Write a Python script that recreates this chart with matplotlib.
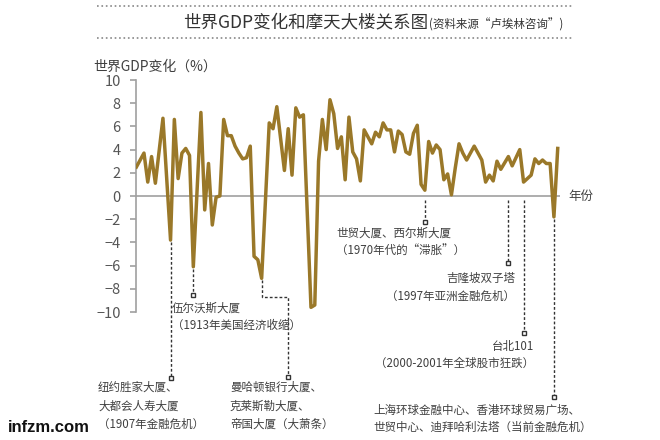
import matplotlib.pyplot as plt

plt.rcParams['font.family'] = ['Noto Sans CJK SC', 'DejaVu Sans']

# world GDP change (%)
years = [1899, 1901, 1902, 1903, 1904, 1906, 1908, 1909, 1910, 1911, 1912, 1913, 1914,
         1916, 1917, 1918, 1919, 1920, 1921, 1922, 1923, 1924, 1925, 1926, 1927, 1928,
         1929, 1930, 1931, 1932, 1934, 1935, 1936, 1938, 1939, 1940, 1941, 1942, 1943,
         1945, 1946, 1947, 1948, 1949, 1950, 1951, 1952, 1953, 1954, 1955, 1956, 1957,
         1958, 1959, 1961, 1962, 1963, 1964, 1965, 1966, 1967, 1968, 1969, 1970, 1971,
         1972, 1973, 1974, 1975, 1976, 1977, 1978, 1979, 1980, 1981, 1982, 1983, 1984,
         1985, 1986, 1988, 1990, 1991, 1992, 1993, 1994, 1995, 1997, 1998, 2000, 2001,
         2003, 2004, 2005, 2006, 2007, 2008, 2009, 2010]
gdp = [2.5, 3.7, 1.2, 3.4, 1.1, 6.7, -3.8, 6.6, 1.5, 3.7, 4.1, 3.5, -6.1,
       7.2, -1.2, 2.8, -2.5, -0.1, 0.0, 6.6, 5.2, 5.2, 4.3, 3.7, 3.2, 3.3,
       4.3, -5.2, -5.5, -7.1, 6.3, 5.8, 7.7, 2.2, 5.8, 1.8, 7.6, 6.8, 7.0,
       -9.6, -9.4, 3.0, 6.6, 4.0, 8.3, 7.1, 4.1, 5.1, 1.4, 6.8, 3.8, 3.2,
       1.3, 5.7, 4.5, 5.5, 5.1, 6.3, 5.7, 5.7, 3.8, 5.6, 5.3, 3.8, 3.6,
       5.4, 6.1, 1.0, 0.5, 4.7, 3.7, 4.4, 4.0, 1.4, 1.9, 0.1, 2.4, 4.5,
       3.7, 3.1, 4.3, 3.1, 1.2, 1.8, 1.3, 3.0, 2.3, 3.4, 2.6, 4.0, 1.2,
       1.8, 3.2, 2.8, 3.1, 2.8, 2.8, -1.8, 4.1]
yticks = list(range(-10, 11, 2))

event_years = [1908, 1914, 1932, 1975, 1997, 2001, 2009]
event_labels = ['纽约胜家大厦、\n大都会人寿大厦\n（1907年金融危机）',
                '伍尔沃斯大厦\n（1913年美国经济收缩）',
                '曼哈顿银行大厦、\n克莱斯勒大厦、\n帝国大厦（大萧条）',
                '世贸大厦、西尔斯大厦\n（1970年代的“滞胀”）',
                '吉隆坡双子塔\n（1997年亚洲金融危机）',
                '台北101\n（2000-2001年全球股市狂跌）',
                '上海环球金融中心、香港环球贸易广场、\n世贸中心、迪拜哈利法塔（当前金融危机）']

gold = '#9a7829'
txt = '#404040'
grey = '#a0a0a0'

fig = plt.figure(figsize=(6.6, 4.4), dpi=100)
ax = fig.add_axes([136 / 660, 128 / 440, 424 / 660, 232 / 440])
ax.plot(years, gdp, color=gold, lw=2.5, solid_joinstyle='round', zorder=3)
ax.axhline(0, color=grey, lw=1.2, zorder=1)
ax.set_xlim(1898.9, 2010.6)
ax.set_ylim(-10, 10)
ax.set_yticks(yticks)
ax.set_xticks([])
for s in ['top', 'right', 'bottom']:
    ax.spines[s].set_visible(False)
ax.spines['left'].set_color(grey)
ax.spines['left'].set_linewidth(1.2)
ax.tick_params(axis='y', direction='out', length=4, width=1.2, colors=grey,
               labelcolor='#555555', labelsize=10.5, pad=7)
ax.patch.set_alpha(0)

# overlay in pixel coordinates for the titles and the annotation leaders
ov = fig.add_axes([0, 0, 1, 1], zorder=-1)
ov.set_xlim(0, 660)
ov.set_ylim(440, 0)
ov.axis('off')


def start(year):
    x, y = ax.transData.transform((year, gdp[years.index(year)]))
    return x, max(440 - y + 2, 200)


def leader(xs, ys):
    ov.plot(xs, ys, color='#333333', lw=1, ls=(0, (2, 1.5)))
    ov.plot(xs[-1], ys[-1], 's', ms=3.5, mfc='white', mec='#333333', mew=1)


kw = dict(fontsize=8.3, color=txt, va='center')

x0, y0 = start(event_years[0])
leader([x0, x0], [y0, 377.7])
ov.text(98, 406, event_labels[0], linespacing=1.55, **kw)

x0, y0 = start(event_years[1])
leader([x0, x0], [y0, 295])
ov.text(172, 317, event_labels[1], linespacing=1.45, **kw)

x0, y0 = start(event_years[2])
leader([x0, x0, 288.3, 288.3], [y0, 296.7, 296.7, 376.7])
ov.text(230, 406, event_labels[2], linespacing=1.55, **kw)

x0, y0 = start(event_years[3])
leader([x0, x0], [y0, 221.7])
ov.text(336, 241.5, event_labels[3], linespacing=1.45, **kw)

x0, y0 = start(event_years[4])
leader([x0, x0], [y0, 263.3])
ov.text(515, 287.5, event_labels[4], linespacing=1.45, ha='right', ma='right', **kw)

x0, y0 = start(event_years[5])
leader([x0, x0], [y0, 333.3])
ov.text(534, 355, event_labels[5], linespacing=1.45, ha='right', ma='right', **kw)

x0, y0 = start(event_years[6])
leader([x0, x0], [y0, 396.7])
ov.text(373, 419, event_labels[6], linespacing=1.45, **kw)

# title block
ov.plot([97, 573], [6, 6], ls=':', color='#888888', lw=1.2)
ov.plot([97, 573], [38, 38], ls=':', color='#888888', lw=1.2)
t = ov.text(183, 23, '世界GDP变化和摩天大楼关系图', fontsize=12.6, color='#333333', va='center')
fig.canvas.draw()
bb = t.get_window_extent()
ov.text(bb.x1 + 1, 25, '(资料来源“卢埃林咨询”)', fontsize=8.3, color='#333333', va='center')

ov.text(93, 67, '世界GDP变化（%）', fontsize=10, color=txt, va='center')
ov.text(568, 196, '年份', fontsize=9, color=txt, va='center')
ov.text(8, 428, 'infzm.com', fontsize=12, fontweight='bold', family='Liberation Sans',
        color='#111111', va='center')

fig.savefig('out.png', dpi=100)
